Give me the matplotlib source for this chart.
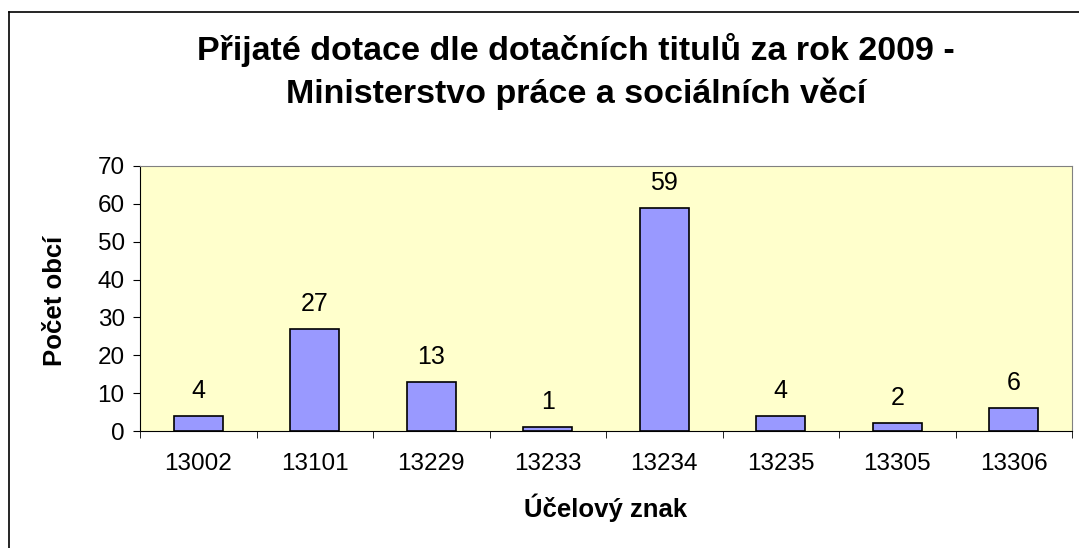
import matplotlib.pyplot as plt
import numpy as np

codes = ["13002", "13101", "13229", "13233", "13234", "13235", "13305", "13306"]
counts = [4, 27, 13, 1, 59, 4, 2, 6]

plt.rcParams['font.family'] = ['Liberation Sans', 'DejaVu Sans']

W, H = 1079, 548
fig = plt.figure(figsize=(W / 100, H / 100), dpi=100)
ax = fig.add_axes([140 / W, 1 - 431 / H, 932 / W, 265 / H])
ax.set_facecolor("#FFFFCC")

x = np.arange(len(codes))
ax.bar(x, counts, width=0.42, color="#9999FF", edgecolor="black", linewidth=1.2)
for xi, v in zip(x, counts):
    ax.annotate(str(v), (xi, v), xytext=(0, 13), textcoords="offset points",
                ha="center", va="baseline", fontsize=18)

ax.set_xlim(-0.5, len(codes) - 0.5)
ax.set_ylim(0, 70)
ax.set_yticks(range(0, 71, 10))
ax.set_xticks(x)
ax.set_xticklabels(codes)
ax.set_xticks(np.arange(-0.5, len(codes), 1), minor=True)
ax.tick_params(axis="x", which="major", length=0, pad=16, labelsize=17.5)
ax.tick_params(axis="x", which="minor", length=5, direction="out", color="black")
ax.tick_params(axis="y", length=5, direction="out", labelsize=17.5, pad=6)

for side in ["top", "right"]:
    ax.spines[side].set_color("#808080")
for side in ["left", "bottom"]:
    ax.spines[side].set_color("black")

# axis titles
fig.text(606 / W, 1 - 508 / H, "Účelový znak", ha="center", va="center",
         fontsize=18.5, fontweight="bold")
fig.text(55 / W, 1 - 301 / H, "Počet obcí", ha="center", va="center",
         rotation=90, fontsize=18.5, fontweight="bold")

# chart title, two lines
fig.text(576 / W, 1 - 60 / H, "Přijaté dotace dle dotačních titulů za rok 2009 -",
         ha="center", va="baseline", fontsize=24.5, fontweight="bold")
fig.text(576 / W, 1 - 103 / H, "Ministerstvo práce a sociálních věcí",
         ha="center", va="baseline", fontsize=24.5, fontweight="bold")

# outer chart border (only left and top visible in the crop)
fig.add_artist(plt.Line2D([9 / W, 9 / W], [0, 1 - 12 / H], color="black", lw=1.2,
                          transform=fig.transFigure))
fig.add_artist(plt.Line2D([9 / W, 1], [1 - 12 / H, 1 - 12 / H], color="black", lw=1.2,
                          transform=fig.transFigure))

fig.savefig("out.png", dpi=100)
